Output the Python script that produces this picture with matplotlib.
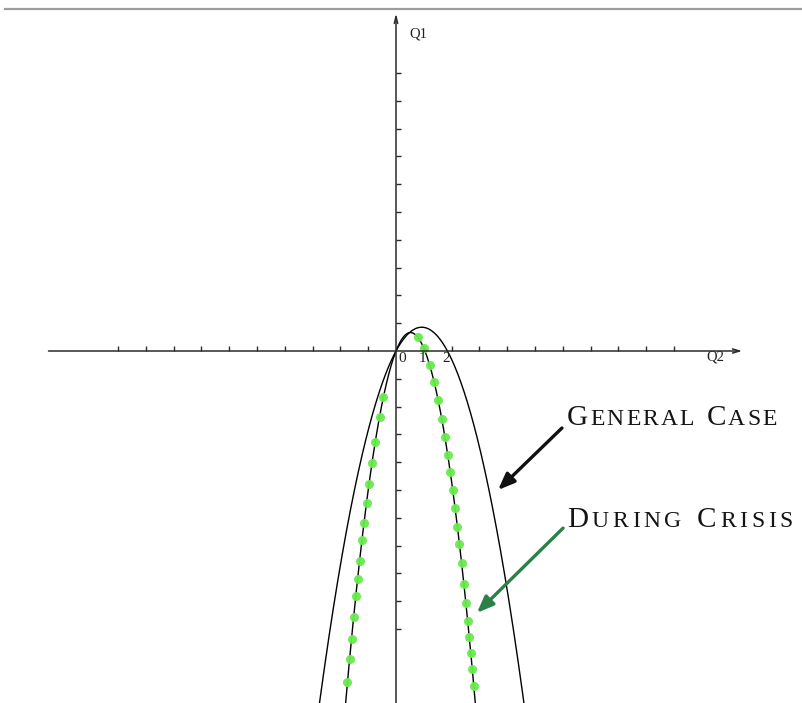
import numpy as np
import matplotlib
matplotlib.use('Agg')
import matplotlib.pyplot as plt

# parabolas: y = a*x^2 + b*x + c
general_coef = [-1.0, 1.85, 0.0]
crisis_coef = [-2.45, 2.55, 0.0]

# green markers sitting on the "during crisis" curve
dots_right_x = [0.78, 0.99, 1.21, 1.37, 1.51, 1.65, 1.76, 1.86, 1.95, 2.04, 2.12,
                2.21, 2.28, 2.36, 2.44, 2.51, 2.58, 2.63, 2.69, 2.74, 2.80]
dots_right_y = [0.50, 0.11, -0.50, -1.12, -1.76, -2.45, -3.09, -3.74, -4.35, -5.00, -5.65,
                -6.33, -6.94, -7.63, -8.38, -9.06, -9.71, -10.29, -10.86, -11.44, -12.05]
dots_left_x = [-0.45, -0.59, -0.75, -0.86, -0.97, -1.06, -1.15, -1.23, -1.31, -1.38,
               -1.45, -1.52, -1.60, -1.67, -1.75]
dots_left_y = [-1.65, -2.37, -3.27, -4.03, -4.78, -5.47, -6.19, -6.80, -7.55, -8.20,
               -8.81, -9.57, -10.36, -11.08, -11.91]

x_ticks = [-10, -9, -8, -7, -6, -5, -4, -3, -2, -1, 1, 2, 3, 4, 5, 6, 7, 8, 9, 10]
y_ticks = [-10, -9, -8, -7, -6, -5, -4, -3, -2, -1, 1, 2, 3, 4, 5, 6, 7, 8, 9, 10]
tick_labels = ['0', '1', '2']
tick_label_x = [0.22, 0.97, 1.80]

W, H = 803, 703
px = 27.8          # pixels per unit
ox, oy = 396, 351  # origin in pixels

fig = plt.figure(figsize=(W / 100, H / 100), dpi=100)
ax = fig.add_axes([0, 0, 1, 1])
ax.set_xlim(-ox / px, (W - ox) / px)
ax.set_ylim(-(H - oy) / px, oy / px)
ax.axis('off')

serif = 'Liberation Serif'
axc = '#2b2b2b'

# grey rule on top
ax.plot([5 / px - ox / px, (W - ox) / px], [(oy - 9.5) / px] * 2, color='#9c9c9c', lw=1.6)

# axes with arrows
ax.annotate('', xy=(12.45, 0), xytext=(-12.5, 0),
            arrowprops=dict(arrowstyle='->,head_length=0.5,head_width=0.15', lw=1.1, color=axc,
                            shrinkA=0, shrinkB=0))
ax.annotate('', xy=(0, 12.15), xytext=(0, -13),
            arrowprops=dict(arrowstyle='->,head_length=0.5,head_width=0.12', lw=1.1, color=axc,
                            shrinkA=0, shrinkB=0))
ax.vlines(x_ticks, 0, 0.18, color=axc, lw=1.0)
ax.hlines(y_ticks, 0, 0.18, color=axc, lw=1.0)

for lab, lx in zip(tick_labels, tick_label_x):
    ax.text(lx, -0.27, lab, family=serif, fontsize=11, ha='center', va='center', color='#222')
ax.text(0.79, 11.42, 'Q1', family=serif, fontsize=10.5, ha='center', va='center', color='#222')
ax.text(11.5, -0.22, 'Q2', family=serif, fontsize=10.5, ha='center', va='center', color='#222')

# curves
xg = np.linspace(-3.0, 4.9, 400)
ax.plot(xg, np.polyval(general_coef, xg), color='black', lw=1.0)
xc = np.linspace(-1.9, 3.0, 400)
ax.plot(xc, np.polyval(crisis_coef, xc), color='black', lw=1.0)
ax.plot(dots_right_x + dots_left_x, dots_right_y + dots_left_y, 'o', ms=6.5,
        color='#66ea4c', mec='none', alpha=0.95)

# arrows pointing at the curves
ax.annotate('', xy=(3.67, -5.0), xytext=(5.97, -2.77),
            arrowprops=dict(arrowstyle='-|>,head_length=1.0,head_width=0.4', lw=2.4,
                            color='#111111', shrinkA=0, shrinkB=0))
ax.annotate('', xy=(2.91, -9.42), xytext=(6.01, -6.37),
            arrowprops=dict(arrowstyle='-|>,head_length=1.0,head_width=0.4', lw=2.4,
                            color='#2b8048', shrinkA=0, shrinkB=0))


def small_caps(x, y, text, width_px, big=21, small=17, color='#141414'):
    r = fig.canvas.get_renderer()
    pieces = []
    for word in text.split(' '):
        for i, ch in enumerate(word):
            pieces.append((ch.upper(), big if i == 0 else small))
        pieces.append((' ', None))
    pieces.pop()
    arts, widths = [], []
    for ch, fs in pieces:
        if fs is None:
            arts.append(None)
            widths.append(8)
            continue
        t = ax.annotate(ch, xy=(x, y), xytext=(0, 0), textcoords='offset pixels',
                        family=serif, fontsize=fs, color=color, va='baseline', ha='left')
        arts.append(t)
        widths.append(t.get_window_extent(r).width)
    track = (width_px - sum(widths)) / (len(pieces) - 1)
    off = 0
    for t, w in zip(arts, widths):
        if t is not None:
            t.xyann = (off, 0)
        off += w + track


small_caps(6.15, -2.66, 'General Case', 210)
small_caps(6.15, -6.33, 'During Crisis', 226)

fig.savefig('out.png', dpi=100)
